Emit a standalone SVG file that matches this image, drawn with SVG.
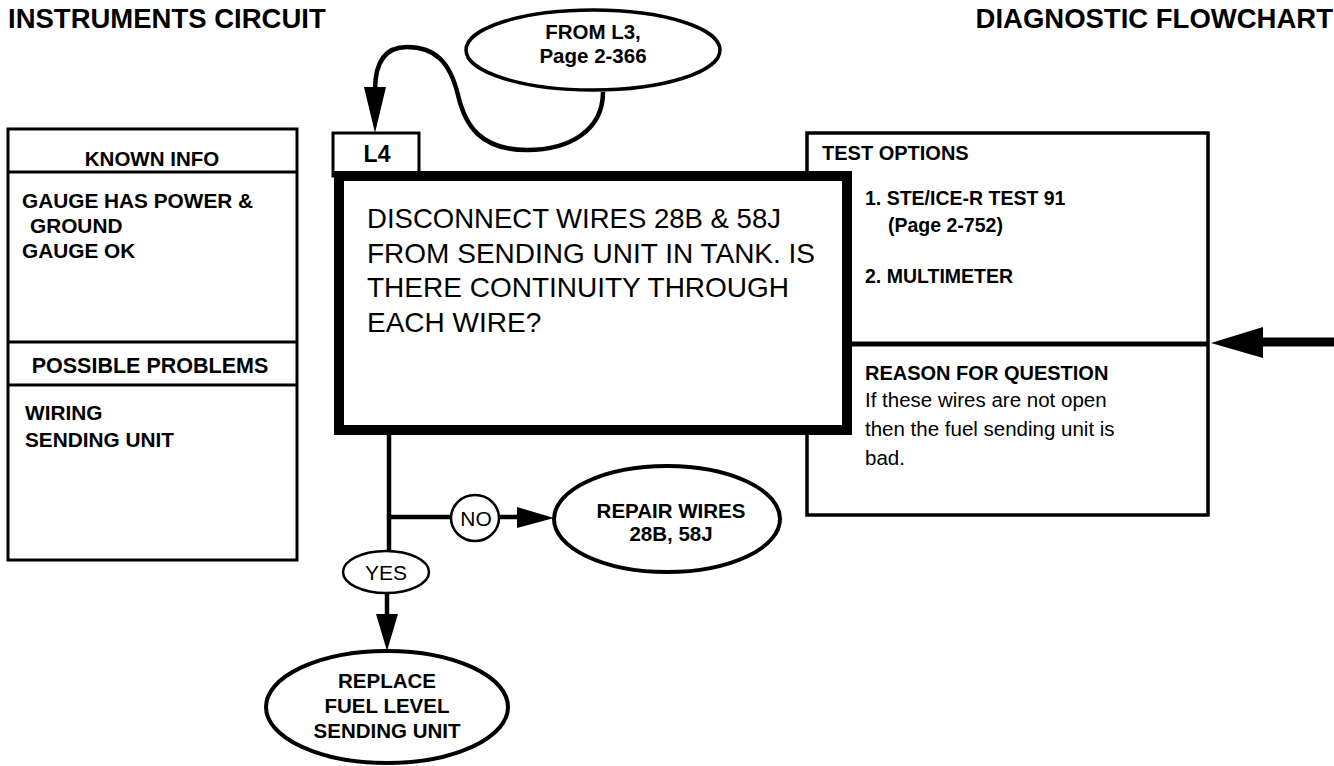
<svg xmlns="http://www.w3.org/2000/svg" width="1334" height="766" viewBox="0 0 1334 766">
<defs>
<style>
.t{font-family:"Liberation Sans",Arial,Helvetica,sans-serif;fill:#000}
.b{font-weight:bold}
.box{fill:#fff;stroke:#000;stroke-width:3}
.ln{stroke:#000;stroke-width:3;fill:none}
.con{stroke:#000;stroke-width:4.5;fill:none}
.head{fill:#000;stroke:none}
.ov{fill:#fff;stroke:#000;stroke-width:4}
.lab{fill:#fff;stroke:#000;stroke-width:2.5}
</style>
</defs>
<rect width="1334" height="766" fill="#fff"/>

<g id="titles">
<text class="t b" x="8" y="28" font-size="27.5">INSTRUMENTS CIRCUIT</text>
<text class="t b" x="1333" y="28" font-size="27.5" text-anchor="end">DIAGNOSTIC FLOWCHART</text>
</g>

<g id="known-info">
<rect class="box" x="8" y="129" width="289" height="431"/>
<line class="ln" x1="8" y1="172" x2="297" y2="172"/>
<line class="ln" x1="8" y1="342" x2="297" y2="342"/>
<line class="ln" x1="8" y1="385" x2="297" y2="385"/>
<text class="t b" x="152" y="166" font-size="20.5" text-anchor="middle">KNOWN INFO</text>
<text class="t b" x="22" y="208" font-size="20.8">GAUGE HAS POWER &amp;</text>
<text class="t b" x="30" y="233" font-size="20.8">GROUND</text>
<text class="t b" x="22" y="258" font-size="20.8">GAUGE OK</text>
<text class="t b" x="150" y="373" font-size="21.5" text-anchor="middle">POSSIBLE PROBLEMS</text>
<text class="t b" x="25" y="420" font-size="20.8">WIRING</text>
<text class="t b" x="25" y="447" font-size="20.8">SENDING UNIT</text>
</g>

<g id="test-options">
<rect class="box" x="807" y="133" width="401" height="382" style="stroke-width:3.5"/>
<line class="ln" x1="807" y1="344" x2="1208" y2="344" style="stroke-width:5"/>
<text class="t b" x="822" y="160" font-size="20">TEST OPTIONS</text>
<text class="t b" x="865" y="205" font-size="19.5">1. STE/ICE-R TEST 91</text>
<text class="t b" x="888" y="232" font-size="19.5">(Page 2-752)</text>
<text class="t b" x="865" y="283" font-size="19.5">2. MULTIMETER</text>
<text class="t b" x="865" y="380" font-size="20">REASON FOR QUESTION</text>
<text class="t" x="865" y="407" font-size="20.5">If these wires are not open</text>
<text class="t" x="865" y="436" font-size="20.5">then the fuel sending unit is</text>
<text class="t" x="865" y="465" font-size="20.5">bad.</text>
</g>

<g id="L4">
<rect class="box" x="333" y="133" width="86" height="43"/>
<text class="t b" x="377" y="162" font-size="23" text-anchor="middle">L4</text>
</g>

<g id="question">
<rect x="339" y="176" width="508" height="254" fill="#fff" stroke="#000" stroke-width="10"/>
<text class="t" x="367" y="228" font-size="28" textLength="414" lengthAdjust="spacingAndGlyphs">DISCONNECT WIRES 28B &amp; 58J</text>
<text class="t" x="367" y="263" font-size="28">FROM SENDING UNIT IN TANK. IS</text>
<text class="t" x="367" y="297" font-size="28">THERE CONTINUITY THROUGH</text>
<text class="t" x="367" y="332" font-size="28">EACH WIRE?</text>
</g>

<g id="from-L3">
<ellipse class="ov" cx="593" cy="50" rx="127" ry="40" style="stroke-width:3.5"/>
<text class="t b" x="593" y="39" font-size="20.5" text-anchor="middle">FROM L3,</text>
<text class="t b" x="593" y="63" font-size="20.5" text-anchor="middle">Page 2-366</text>
</g>

<g id="repair-wires">
<ellipse class="ov" cx="667" cy="519" rx="113" ry="53"/>
<text class="t b" x="671" y="518" font-size="20.5" text-anchor="middle">REPAIR WIRES</text>
<text class="t b" x="671" y="541" font-size="20.5" text-anchor="middle">28B, 58J</text>
</g>

<g id="replace-unit">
<ellipse class="ov" cx="387" cy="707" rx="121" ry="56"/>
<text class="t b" x="387" y="688" font-size="20.5" text-anchor="middle">REPLACE</text>
<text class="t b" x="387" y="713" font-size="20.5" text-anchor="middle">FUEL LEVEL</text>
<text class="t b" x="387" y="738" font-size="20.5" text-anchor="middle">SENDING UNIT</text>
</g>

<g id="connectors">
<path class="con" d="M603 92 C603 130 570 150 527 150 C480 150 465 125 458 95 C450 62 435 47 407 47 C385 47 375 62 375 90"/>
<polygon class="head" points="364,87 386,87 375,133"/>
<line class="con" x1="389" y1="435" x2="389" y2="551"/>
<line class="con" x1="389" y1="517" x2="451" y2="517"/>
<line class="con" x1="499" y1="517" x2="520" y2="517"/>
<polygon class="head" points="517,507 517,528 554,518"/>
<line class="con" x1="387" y1="593" x2="387" y2="617"/>
<polygon class="head" points="376,614 398,614 387,651"/>
<line x1="1334" y1="342" x2="1258" y2="342" stroke="#000" stroke-width="9"/>
<polygon class="head" points="1211,343 1263,327 1263,358"/>
<ellipse class="lab" cx="475" cy="518" rx="24" ry="23"/>
<text class="t" x="476" y="526" font-size="21" text-anchor="middle">NO</text>
<ellipse class="lab" cx="386" cy="572" rx="43" ry="21"/>
<text class="t" x="386" y="580" font-size="21" text-anchor="middle">YES</text>
</g>
</svg>
